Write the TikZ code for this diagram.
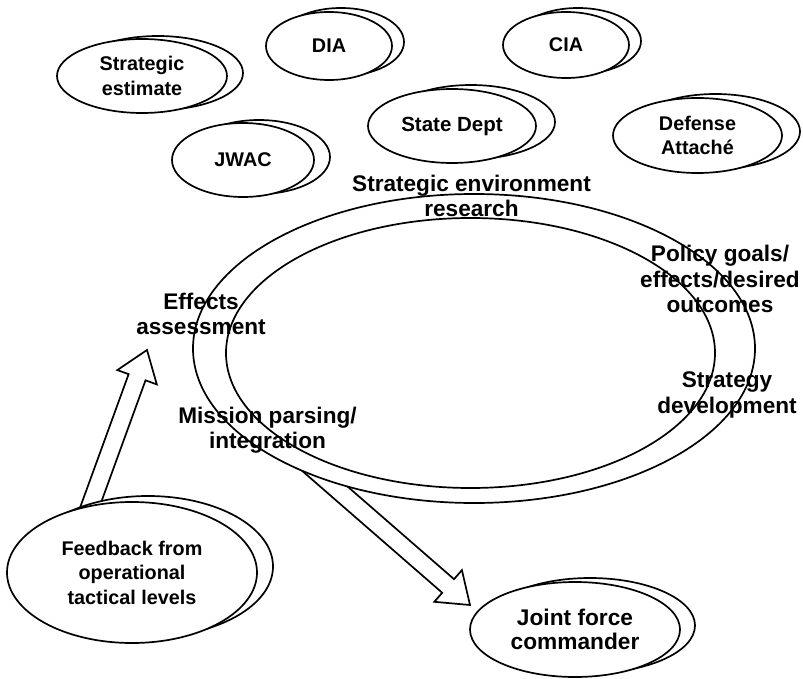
\documentclass[tikz,border=0pt]{standalone}
\usepackage{fontspec}
\setmainfont{Liberation Sans}
\usetikzlibrary{shapes.geometric,calc}
\newcommand\ovalfont{\fontsize{19.8}{24.5}\selectfont\bfseries}
\newcommand\bigovalfont{\fontsize{22.7}{24.5}\selectfont\bfseries}
\newcommand\lblfont{\fontsize{22.6}{25.5}\selectfont\bfseries}
\newcommand\blockarrow[2]{%
  \path ($(#2)!29pt!(#1)$) coordinate (#2-hb);
  \draw[blockarr] ($(#1)!9pt!90:(#2)$) -- ($(#2-hb)!9pt!-90:(#1)$) -- ($(#2-hb)!21pt!-90:(#1)$) -- (#2)
    -- ($(#2-hb)!21pt!90:(#1)$) -- ($(#2-hb)!9pt!90:(#1)$) -- ($(#1)!9pt!-90:(#2)$) -- cycle;}
\tikzset{
  oval/.style={ellipse, draw, line width=1.7pt, fill=white, inner sep=0pt, align=center, font=\ovalfont},
  lbl/.style={align=center, font=\lblfont, inner sep=0pt},
  blockarr/.style={draw, line width=1.7pt, fill=white, line join=miter},
}
\begin{document}
\begin{tikzpicture}[x=1pt,y=-1pt]
\useasboundingbox (0,0) rectangle (803,679);

% arrows (drawn first, their tails hidden under ovals)
\coordinate (a1tail) at (82,528.6);
\coordinate (a1tip) at (147,350);
\coordinate (a2tail) at (292.8,450.8);
\coordinate (a2tip) at (470,605);
\blockarrow{a1tail}{a1tip}
\blockarrow{a2tail}{a2tip}

% big central double ellipse
\node[oval, minimum width=562pt, minimum height=309pt] (outer) at (474,348.5) {};
\node[oval, minimum width=489pt, minimum height=270pt] (inner) at (470.5,353) {};

% small double ovals
\node[oval, minimum width=170pt, minimum height=74pt] (se-b) at (158,73) {};
\node[oval, minimum width=170pt, minimum height=74pt] (se) at (142,76) {Strategic\\estimate};

\node[oval, minimum width=126pt, minimum height=68pt] (dia-b) at (341,42) {};
\node[oval, minimum width=126pt, minimum height=68pt] (dia) at (329,46) {DIA};

\node[oval, minimum width=126pt, minimum height=66pt] (cia-b) at (578,41) {};
\node[oval, minimum width=126pt, minimum height=66pt] (cia) at (566,45) {CIA};

\node[oval, minimum width=168pt, minimum height=74pt] (sd-b) at (471,122) {};
\node[oval, minimum width=168pt, minimum height=74pt, font=\fontsize{20.5}{24.5}\selectfont\bfseries] (sd) at (452,126) {State Dept};

\node[oval, minimum width=142pt, minimum height=74pt] (jwac-b) at (259,157) {};
\node[oval, minimum width=142pt, minimum height=74pt] (jwac) at (243,160) {JWAC};

\node[oval, minimum width=169pt, minimum height=75pt] (da-b) at (715.5,131.5) {};
\node[oval, minimum width=169pt, minimum height=75pt] (da) at (697.5,135.5) {Defense\\Attach\'e};

\node[oval, minimum width=250pt, minimum height=141pt] (fb-b) at (148,566.5) {};
\node[oval, minimum width=250pt, minimum height=141pt] (fb) at (132,572.5) {Feedback from\\operational\\tactical levels};

\node[oval, minimum width=210pt, minimum height=95pt] (jfc-b) at (590,625.5) {};
\node[oval, minimum width=210pt, minimum height=95pt, font=\bigovalfont] (jfc) at (575,629.5) {Joint force\\commander};

% labels around the big ellipse
\node[lbl] (env) at (471.5,196) {Strategic environment\\research};
\node[lbl] (pol) at (720,279) {Policy goals/\\effects/desired\\outcomes};
\node[lbl] (strat) at (727,395) {Strategy\\development};
\node[lbl] (eff) at (201,314) {Effects\\assessment};
\node[lbl] (mis) at (267.5,430) {Mission parsing/\\integration};
\end{tikzpicture}
\end{document}
